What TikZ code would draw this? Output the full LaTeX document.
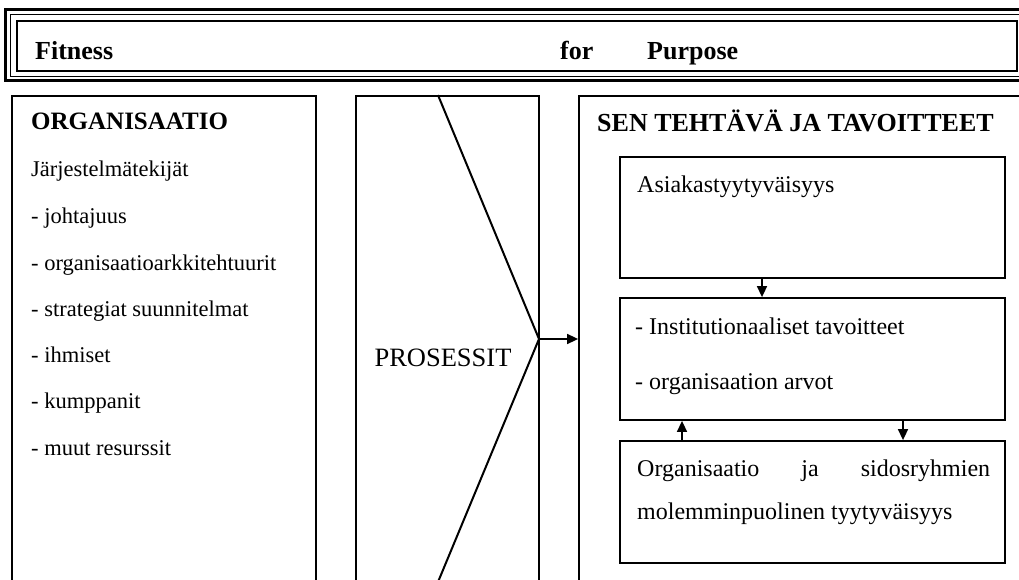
\documentclass[tikz,border=0pt]{standalone}
\usepackage{fontspec}
\setmainfont{Liberation Serif}
\usetikzlibrary{positioning,arrows.meta}

\begin{document}
\begin{tikzpicture}[x=1pt,y=-1pt,
 bx/.style={draw,line width=1.8pt,inner sep=0pt},
 t/.style={anchor=base west,inner sep=0pt,font=\fontsize{22.5}{27}\selectfont},
 tr/.style={anchor=base west,inner sep=0pt,font=\fontsize{24}{29}\selectfont},
 hd/.style={anchor=base west,inner sep=0pt,font=\fontsize{26}{31}\selectfont\bfseries},
 a/.style={-{Triangle[length=11pt,width=10pt]},line width=1.6pt}]
\clip (0,0) rectangle (1019,580);
% banner
\draw[line width=3pt] (5,10) rectangle (1040,81);
\draw[line width=1.4pt] (10.5,14.5) rectangle (1040,76.5);
\node[bx,line width=1.5pt,minimum width=1000pt,minimum height=50pt] (ban) at (517,46) {};
\node[hd] (fit) at (35,60) {Fitness};
\node[hd] (for) at (560,60) {for};
\node[hd] (purp) at (647,60) {Purpose};
% three columns
\node[bx,minimum width=304pt,minimum height=504pt] (org) at (164,348) {};
\node[bx,minimum width=183pt,minimum height=504pt] (mid) at (447.5,348) {};
\node[bx,minimum width=461pt,minimum height=504pt] (rgt) at (809.5,348) {};
% left column text
\node[hd,font=\fontsize{25}{30}\selectfont\bfseries] (orgh) at (31,130) {ORGANISAATIO};
\node[t] (l1) at (31,177) {Järjestelmätekijät};
\node[t] (l2) at (31,223) {- johtajuus};
\node[t] (l3) at (31,270) {- organisaatioarkkitehtuurit};
\node[t] (l4) at (31,316) {- strategiat suunnitelmat};
\node[t] (l5) at (31,362) {- ihmiset};
\node[t] (l6) at (31,408) {- kumppanit};
\node[t] (l7) at (31,455) {- muut resurssit};
% processes
\node[font=\fontsize{26.5}{32}\selectfont] (pros) at (443,358) {PROSESSIT};
\coordinate (tip) at (539,339);
\draw[line width=2pt] ([xshift=-9.5pt]mid.north) -- (tip) -- (430.5,600);
\draw[a] (tip) -- (rgt.west |- tip);
% right column
\node[hd] (goal) at (597,131.5) {SEN TEHTÄVÄ JA TAVOITTEET};
\node[bx,minimum width=385pt,minimum height=121pt] (b1) at (812.5,217.5) {};
\node[bx,minimum width=385pt,minimum height=122pt] (b2) at (812.5,359) {};
\node[bx,minimum width=385pt,minimum height=122pt] (b3) at (812.5,502) {};
\node[tr] (asi) at (637,193) {Asiakastyytyväisyys};
\node[tr] (ins) at (635,334) {- Institutionaaliset tavoitteet};
\node[tr] (arv) at (635,389) {- organisaation arvot};
\node[tr] (sid) at (637,476) {\makebox[353pt][s]{Organisaatio ja sidosryhmien}};
\node[tr] (mol) at (637,519) {molemminpuolinen tyytyväisyys};
\draw[a] ([xshift=-50.5pt]b1.south) -- ([xshift=-50.5pt]b2.north);
\draw[a] ([xshift=-130.5pt]b3.north) -- ([xshift=-130.5pt]b2.south);
\draw[a] ([xshift=90.5pt]b2.south) -- ([xshift=90.5pt]b3.north);
\end{tikzpicture}
\end{document}
